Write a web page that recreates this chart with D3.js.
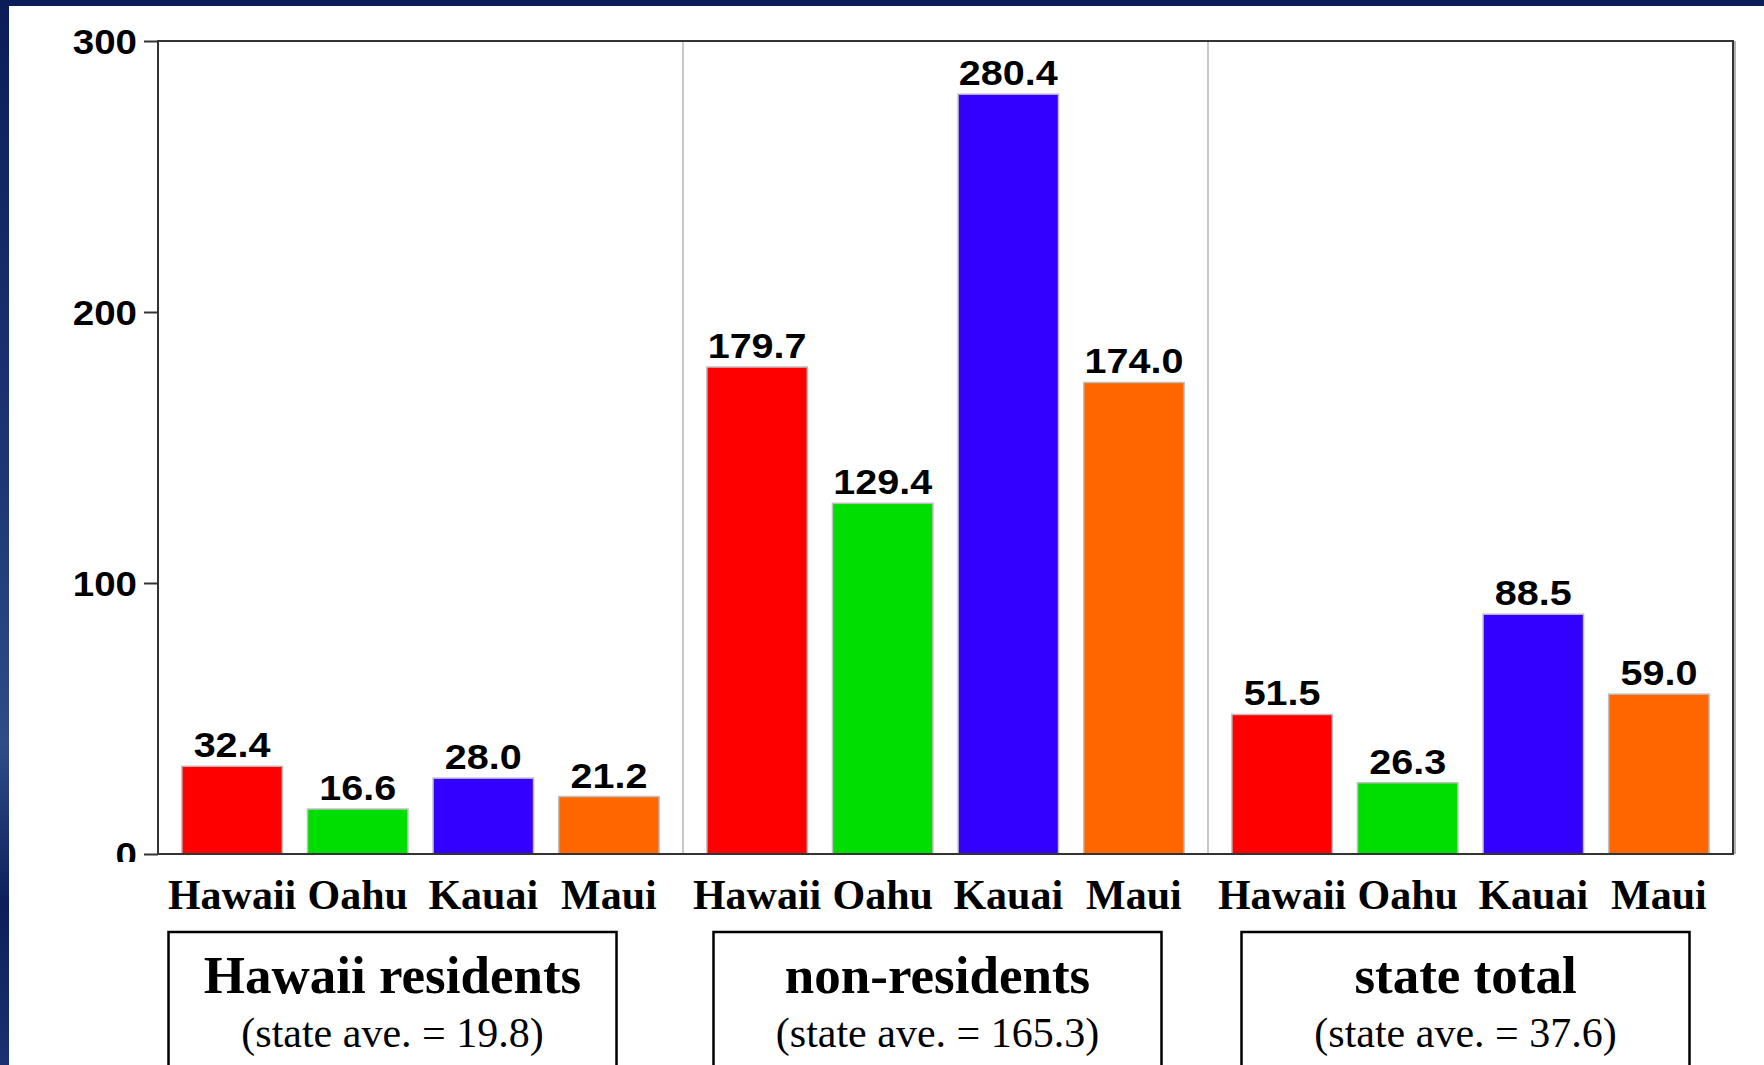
<!DOCTYPE html>
<html>
<head>
<meta charset="utf-8">
<script src="https://cdn.jsdelivr.net/npm/d3@7"></script>
<style>
  body { margin: 0; background: #0b1f5c; overflow: hidden; }
  .num { font-family: "Liberation Sans", Arial, sans-serif; font-weight: bold; fill: #000; }
  .serif { font-family: "Liberation Serif", "Times New Roman", serif; fill: #000; }
</style>
</head>
<body>
<div id="canvas"></div>
<script>
// chart data
var islands = ["Hawaii", "Oahu", "Kauai", "Maui"];
var groups = ["Hawaii residents", "non-residents", "state total"];
var stateAve = ["19.8", "165.3", "37.6"];
var residents = [32.4, 16.6, 28.0, 21.2];
var nonResidents = [179.7, 129.4, 280.4, 174.0];
var stateTotal = [51.5, 26.3, 88.5, 59.0];
var yTicks = [0, 100, 200, 300];
var colors = ["#ff0000", "#00dd00", "#3300ff", "#ff6600"];

var width = 1764,
    height = 1065;

var series = [residents, nonResidents, stateTotal];

var svg = d3.select("#canvas").append("svg")
    .attr("width", width)
    .attr("height", height);

// dark slide background
var defs = svg.append("defs");
var grad = defs.append("linearGradient")
    .attr("id", "bg").attr("x1", 0).attr("y1", 0).attr("x2", 0).attr("y2", 1);
grad.append("stop").attr("offset", "0%").attr("stop-color", "#0a1d58");
grad.append("stop").attr("offset", "45%").attr("stop-color", "#1d3775");
grad.append("stop").attr("offset", "70%").attr("stop-color", "#2e4c88");
grad.append("stop").attr("offset", "85%").attr("stop-color", "#0c1f5a");
grad.append("stop").attr("offset", "100%").attr("stop-color", "#1a3170");
svg.append("rect")
    .attr("width", width)
    .attr("height", height)
    .attr("fill", "url(#bg)");

svg.append("rect")
    .attr("x", 9).attr("y", 6)
    .attr("width", width - 9)
    .attr("height", height - 6)
    .attr("fill", "#fff");

defs.append("clipPath").attr("id", "tickclip")
  .append("rect").attr("x", -160).attr("y", 0).attr("width", 170).attr("height", 862);

var plotLeft = 158, plotRight = 1733, plotTop = 41, plotBottom = 854;

var x0 = d3.scaleBand()
    .domain(groups)
    .range([plotLeft, plotRight]);

var x1 = d3.scaleBand()
    .domain(islands)
    .range([0, x0.bandwidth()])
    .paddingInner(0.2)
    .paddingOuter(0.19);

var y = d3.scaleLinear()
    .domain([0, 300])
    .range([plotBottom, plotTop]);

// group dividers
svg.selectAll(".divider")
    .data(groups.slice(1)).enter()
  .append("line")
    .attr("class", "divider")
    .attr("x1", function(d){ return x0(d); })
    .attr("x2", function(d){ return x0(d); })
    .attr("y1", plotTop)
    .attr("y2", plotBottom)
    .attr("stroke", "#c8c8c8")
    .attr("stroke-width", 2);

// bars
var g = svg.selectAll(".group")
    .data(groups).enter()
  .append("g")
    .attr("class", "group")
    .attr("transform", function(d){ return "translate(" + x0(d) + ",0)"; });

g.selectAll("rect")
    .data(function(d, i){ return series[i].map(function(v, j){ return {island: islands[j], value: v, color: colors[j]}; }); })
    .enter().append("rect")
    .attr("x", function(d){ return x1(d.island); })
    .attr("y", function(d){ return y(d.value); })
    .attr("width", x1.bandwidth())
    .attr("height", function(d){ return y(0) - y(d.value); })
    .attr("fill", function(d){ return d.color; })
    .attr("stroke", "#c0c0c0")
    .attr("stroke-width", 1.5);

g.selectAll(".val")
    .data(function(d, i){ return series[i].map(function(v, j){ return {island: islands[j], value: v}; }); })
    .enter().append("text")
    .attr("class", "val num")
    .attr("text-anchor", "middle")
    .attr("font-size", 35)
    .attr("transform", function(d){
      return "translate(" + (x1(d.island) + x1.bandwidth() / 2) + "," + (y(d.value) - 9) + ") scale(1.13,1)";
    })
    .text(function(d){ return d.value.toFixed(1); });

// island labels
g.selectAll(".cat")
    .data(islands).enter()
  .append("text")
    .attr("class", "cat serif")
    .attr("font-weight", "bold")
    .attr("font-size", 42)
    .attr("text-anchor", "middle")
    .attr("x", function(d){ return x1(d) + x1.bandwidth() / 2; })
    .attr("y", 909)
    .text(function(d){ return d; });

// y axis
var axis = svg.append("g")
    .attr("transform", "translate(" + plotLeft + ",0)")
    .attr("clip-path", "url(#tickclip)")
    .call(d3.axisLeft(y).tickValues(yTicks).tickSize(14).tickPadding(7));
axis.select(".domain").remove();
axis.selectAll(".tick line").attr("stroke", "#333").attr("stroke-width", 2);
axis.selectAll(".tick text")
    .attr("class", "num")
    .attr("font-size", 35)
    .attr("fill", "#000")
    .attr("transform", "scale(1.1,1)")
    .attr("x", -21 / 1.1)
    .attr("dy", "0.36em");

// frame
svg.append("path")
    .attr("d", "M" + plotLeft + "," + plotTop + "H" + plotRight + "V" + plotBottom + "H" + plotLeft + "Z")
    .attr("fill", "none")
    .attr("stroke", "#333")
    .attr("stroke-width", 2);
svg.append("line")
    .attr("x1", plotRight + 2).attr("x2", plotRight + 2)
    .attr("y1", plotTop).attr("y2", plotBottom)
    .attr("stroke", "#999").attr("stroke-width", 1.5);

// group boxes
var boxShift = [-28, -8, -5];
var boxW = 448;
var box = svg.selectAll(".box")
    .data(groups).enter()
  .append("g")
    .attr("class", "box")
    .attr("transform", function(d, i){ return "translate(" + (x0(d) + x0.bandwidth() / 2 + boxShift[i]) + ",0)"; });

box.append("rect")
    .attr("x", -boxW / 2)
    .attr("y", 932)
    .attr("width", boxW)
    .attr("height", 200)
    .attr("fill", "#fff")
    .attr("stroke", "#000")
    .attr("stroke-width", 2.5);

box.append("text")
    .attr("class", "serif")
    .attr("font-weight", "bold")
    .attr("font-size", 53)
    .attr("text-anchor", "middle")
    .attr("y", 993)
    .text(function(d){ return d; });

box.append("text")
    .attr("class", "serif")
    .attr("font-size", 42)
    .attr("text-anchor", "middle")
    .attr("y", 1047)
    .text(function(d, i){ return "(state ave. = " + stateAve[i] + ")"; });
</script>
</body>
</html>
